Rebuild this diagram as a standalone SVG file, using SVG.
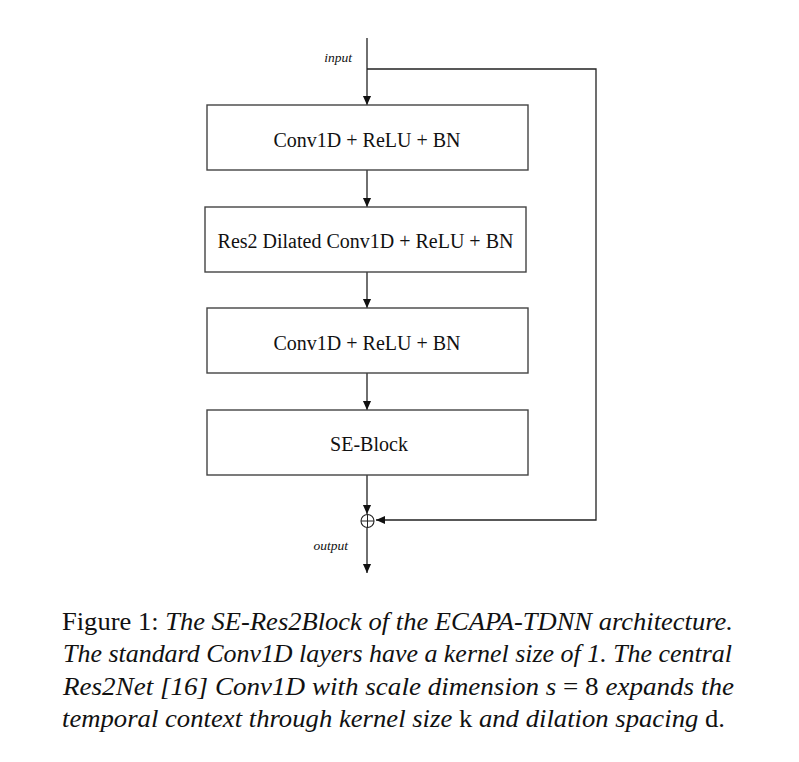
<svg xmlns="http://www.w3.org/2000/svg" width="799" height="762" viewBox="0 0 799 762">
<defs>
<style>
.box{fill:#fff;stroke:#444;stroke-width:1.4}
.lbl{font-family:"Liberation Serif","Times New Roman",serif;font-size:20px;fill:#111;text-anchor:middle}
.io{font-family:"Liberation Serif","Times New Roman",serif;font-size:13.5px;font-style:italic;fill:#111;text-anchor:end}
.ln{fill:none;stroke:#222;stroke-width:1.3}
.cap{font-family:"Liberation Serif","Times New Roman",serif;font-size:25.5px;fill:#111}
.it{font-style:italic}
</style>
<marker id="ah" markerWidth="9" markerHeight="11" refX="10" refY="4.5" orient="auto" markerUnits="userSpaceOnUse" viewBox="0 0 10 9">
<path d="M0,0 L10,4.5 L0,9 Z" fill="#111"/>
</marker>
</defs>
<rect width="799" height="762" fill="#fff"/>
<g id="connectors">
<line class="ln" x1="367" y1="38" x2="367" y2="105" marker-end="url(#ah)"/>
<line class="ln" x1="367" y1="170" x2="367" y2="207" marker-end="url(#ah)"/>
<line class="ln" x1="367" y1="272" x2="367" y2="308" marker-end="url(#ah)"/>
<line class="ln" x1="367" y1="373" x2="367" y2="410" marker-end="url(#ah)"/>
<line class="ln" x1="367" y1="475" x2="367" y2="514" marker-end="url(#ah)"/>
<polyline class="ln" points="367,69 596,69 596,520 376,520" marker-end="url(#ah)"/>
<line class="ln" x1="367" y1="528" x2="367" y2="573" marker-end="url(#ah)"/>
</g>
<g id="input-label"><text class="io" x="352" y="62">input</text></g>
<g id="n1"><rect class="box" x="207" y="105" width="321" height="65"/><text class="lbl" x="367" y="146.5">Conv1D + ReLU + BN</text></g>
<g id="n2"><rect class="box" x="205" y="207" width="321" height="65"/><text class="lbl" x="365.5" y="248">Res2 Dilated Conv1D + ReLU + BN</text></g>
<g id="n3"><rect class="box" x="207" y="308" width="321" height="65"/><text class="lbl" x="367" y="349.5">Conv1D + ReLU + BN</text></g>
<g id="n4"><rect class="box" x="207" y="410" width="321" height="65"/><text class="lbl" x="369" y="451">SE-Block</text></g>
<g id="sum">
<circle cx="367.5" cy="521" r="6.5" fill="#fff" stroke="#222" stroke-width="1.1"/>
<line x1="361" y1="521" x2="374" y2="521" stroke="#222" stroke-width="1"/>
<line x1="367.5" y1="514.5" x2="367.5" y2="527.5" stroke="#222" stroke-width="1"/>
</g>
<g id="output-label"><text class="io" x="348" y="550">output</text></g>
<g id="caption">
<text class="cap" x="62" y="630" textLength="671" lengthAdjust="spacingAndGlyphs">Figure 1: <tspan class="it">The SE-Res2Block of the ECAPA-TDNN architecture.</tspan></text>
<text class="cap it" x="63" y="662" textLength="669" lengthAdjust="spacingAndGlyphs">The standard Conv1D layers have a kernel size of 1. The central</text>
<text class="cap" x="63" y="695" textLength="671" lengthAdjust="spacingAndGlyphs"><tspan class="it">Res2Net [16] Conv1D with scale dimension </tspan><tspan class="it">s</tspan> = 8 <tspan class="it">expands the</tspan></text>
<text class="cap" x="62" y="727" textLength="663" lengthAdjust="spacingAndGlyphs"><tspan class="it">temporal context through kernel size </tspan>k<tspan class="it"> and dilation spacing </tspan>d.</text>
</g>
</svg>
